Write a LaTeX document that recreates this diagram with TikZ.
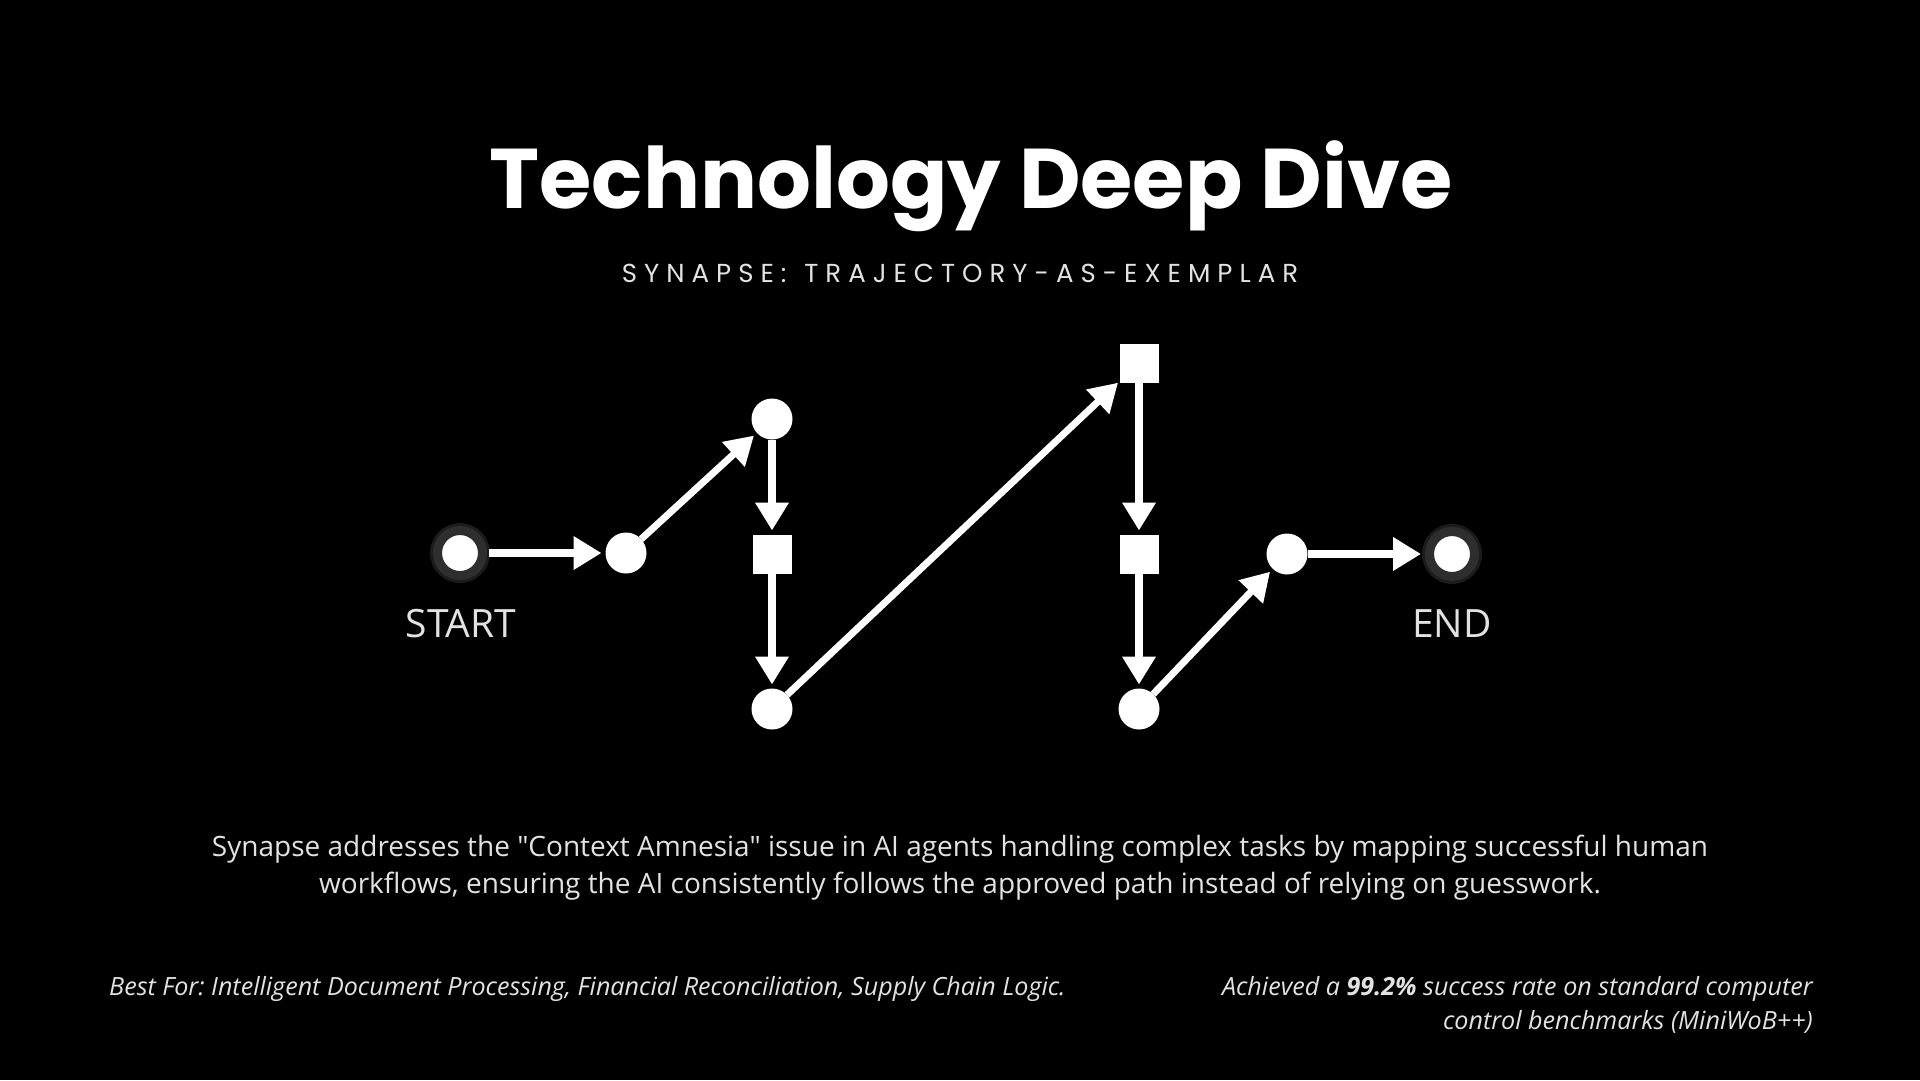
\documentclass[tikz,border=0pt]{standalone}
\usepackage{fontspec}
\setmainfont{Open Sans}
\newfontfamily\plainfont{Open Sans}
\newfontfamily\titlefont{Poppins}
\newfontfamily\subfont[LetterSpace=27]{Poppins}
\usetikzlibrary{arrows.meta}
\definecolor{ringgray}{HTML}{2E2E2E}
\definecolor{ringouter}{HTML}{1C1C1C}
\definecolor{txt}{HTML}{E2E2E2}
\frenchspacing
\begin{document}
\begin{tikzpicture}[x=1pt,y=-1pt,
  dot/.style={circle,fill=white,minimum size=41pt,inner sep=0pt,outer sep=0pt},
  sqr/.style={rectangle,fill=white,minimum size=39pt,inner sep=0pt,outer sep=0pt},
  term/.style={circle,fill=white,draw=ringgray,line width=9pt,minimum size=45pt,inner sep=0pt},
  glow/.style={circle,draw=ringouter,line width=4pt,minimum size=56pt,inner sep=0pt},
  flow/.style={draw=white,line width=8pt,-{Triangle[length=28pt,width=32pt]},shorten >=4pt},
  dflow/.style={flow,line width=7pt},
  lbl/.style={text=txt,inner sep=0pt,anchor=base,font=\fontsize{39}{46}\selectfont},
  body/.style={text=txt,inner sep=0pt,anchor=base,font=\plainfont\fontsize{28}{37}\selectfont},
  foot/.style={text=txt,inner sep=0pt,font=\fontsize{25.1}{34}\selectfont\itshape}
]
\fill[black] (0,0) rectangle (1920,1080);
\useasboundingbox (0,0) rectangle (1920,1080);

\node[inner sep=0pt,anchor=base,text=white,font=\titlefont\bfseries\fontsize{84.7}{100}\selectfont] (title) at (971,208) {Technology Deep Dive};
\node[inner sep=0pt,anchor=base,text=txt,font=\subfont\fontsize{26}{32}\selectfont] (sub) at (960,282) {SYNAPSE:\hspace{4pt} TRAJECTORY-AS-EXEMPLAR};

\node[glow] (startglow) at (460,553) {};
\node[glow] (endglow) at (1452,554) {};
\node[term] (start) at (460,553) {};
\node[dot] (n1) at (626,553) {};
\node[dot] (n2) at (772,419) {};
\node[sqr] (s1) at (772,554) {};
\node[dot] (n3) at (772,709) {};
\node[sqr] (s2) at (1139,363) {};
\node[sqr] (s3) at (1139,554) {};
\node[dot] (n4) at (1139,709) {};
\node[dot] (n5) at (1287,554) {};
\node[term] (end) at (1452,554) {};

\node[lbl] (startl) at (461,637) {START};
\node[lbl] (endl) at (1452,637) {END};

\draw[flow,shorten <=2pt] (start) -- (n1);
\draw[dflow] (n1) -- (n2);
\draw[flow] (n2) -- (s1);
\draw[flow] (s1) -- (n3);
\draw[dflow,shorten >=2pt] (n3) -- (s2);
\draw[flow] (s2) -- (s3);
\draw[flow] (s3) -- (n4);
\draw[dflow] (n4) -- (n5);
\draw[flow] (n5) -- (end);

\node[body] (b1) at (960,856) {Synapse addresses the "Context Amnesia" issue in AI agents handling complex tasks by mapping successful human};
\node[body] (b2) at (960,893) {workflows, ensuring the AI consistently follows the approved path instead of relying on guesswork.};

\node[foot,anchor=base west] (f1) at (109,995) {Best For: Intelligent Document Processing, Financial Reconciliation, Supply Chain Logic.};
\node[foot,anchor=base east] (f2) at (1813,995) {Achieved a \textbf{99.2\%} success rate on standard computer};
\node[foot,anchor=base east] (f3) at (1813,1029) {control benchmarks (MiniWoB++)};
\end{tikzpicture}
\end{document}
